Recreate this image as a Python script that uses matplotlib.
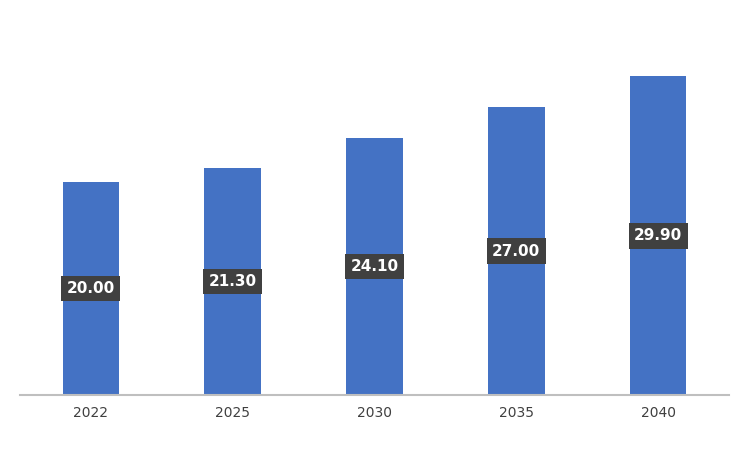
import matplotlib.pyplot as plt

years = ["2022", "2025", "2030", "2035", "2040"]
values = [20.00, 21.30, 24.10, 27.00, 29.90]

fig = plt.figure(figsize=(7.5, 4.5), dpi=100)
ax = fig.add_axes([20/750, 1-395/450, 709/750, 375/450])
x = range(len(years))
bars = ax.bar(x, values, width=0.4, color="#4472C4")
for xi, v in zip(x, values):
    ax.text(xi, v/2, f"{v:.2f}", ha="center", va="center", color="white",
            fontsize=11, fontweight="bold",
            bbox=dict(boxstyle="square,pad=0.35", fc="#404040", ec="none"))
ax.set_xlim(-0.5, 4.5)
ax.set_ylim(0, 35.2)
ax.set_xticks(list(x))
ax.set_xticklabels(years, fontsize=10, color="#404040")
ax.tick_params(axis="x", length=0, pad=8)
ax.set_yticks([])
for s in ["top", "right", "left"]:
    ax.spines[s].set_visible(False)
ax.spines["bottom"].set_color("#BFBFBF")
ax.spines["bottom"].set_linewidth(1.5)
fig.savefig("out.png", dpi=100)
